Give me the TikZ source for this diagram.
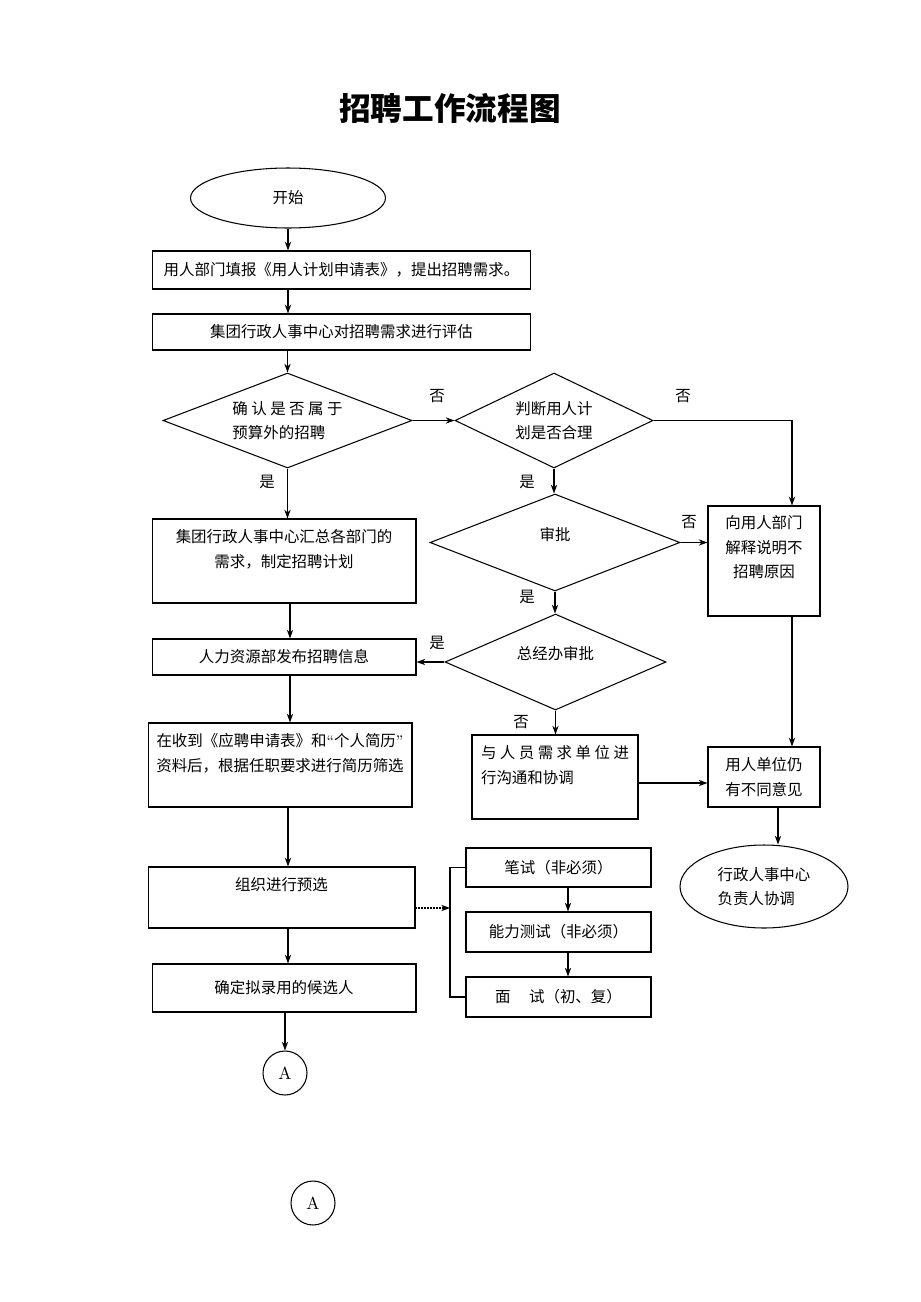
\documentclass[tikz,border=0pt]{standalone}
\usepackage{fontspec}
\newfontfamily\cjk{Noto Sans CJK SC}
\usepackage{tikz}
\usetikzlibrary{positioning,arrows.meta,shapes.geometric}
\newcommand{\txtfont}{\cjk\fontsize{8.8}{13.8}\selectfont}

\begin{document}
\begin{tikzpicture}[
  x=0.02cm, y=-0.02cm,
  box/.style={draw, line width=0.6pt, inner sep=0pt, font=\txtfont, align=center},
  decision/.style={diamond, draw, line width=0.6pt, inner sep=0pt, aspect=2.5, font=\txtfont, align=left},
  oval/.style={ellipse, draw, line width=0.6pt, inner sep=0pt, font=\txtfont},
  toptext/.style={font=\txtfont, align=center, inner sep=0pt},
  lab/.style={font=\txtfont},
  arr/.style={-{Stealth[length=5pt,width=3.6pt]}, line width=0.7pt}
]
  \useasboundingbox (0,0) rectangle (920,1302);

  % Title
  \node[font=\cjk\bfseries\fontsize{18}{22}\selectfont] (title) at (450,108) {招聘工作流程图};

  % Main column
  \node[oval, minimum width=3.9cm, minimum height=1.2cm] (start) at (288,198) {开始};
  \node[box, minimum width=7.58cm, minimum height=0.76cm] (b1) at (341.5,270)
    {用人部门填报《用人计划申请表》，提出招聘需求。};
  \node[box, minimum width=7.58cm, minimum height=0.72cm] (b2) at (341.5,332)
    {集团行政人事中心对招聘需求进行评估};

  \node[decision, minimum width=4.98cm, minimum height=1.9cm] (d1) at (287.5,420.5)
    {确 认 是 否 属 于\\预算外的招聘};

  \node[box, minimum width=5.28cm, minimum height=1.68cm] (b3) at (284,561) {};
  \node[toptext, below=0.22cm of b3.north] (b3t)
    {集团行政人事中心汇总各部门的\\需求，制定招聘计划};

  \node[box, minimum width=5.28cm, minimum height=0.72cm] (b4) at (284,657) {人力资源部发布招聘信息};

  \node[box, minimum width=5.28cm, minimum height=1.68cm] (b5) at (280,765) {};
  \node[toptext, below=0.22cm of b5.north] (b5t)
    {在收到《应聘申请表》和{\rmfamily“}个人简历{\rmfamily”}\\资料后，根据任职要求进行简历筛选};

  \node[box, minimum width=5.34cm, minimum height=1.22cm] (b7) at (281.5,897.5) {};
  \node[toptext, below=0.22cm of b7.north] (b7t) {组织进行预选};

  \node[box, minimum width=5.28cm, minimum height=0.96cm] (b11) at (284,988) {确定拟录用的候选人};

  \node[circle, draw, line width=0.6pt, minimum size=0.88cm, inner sep=0pt] (ca) at (285,1073) {A};
  \node[circle, draw, line width=0.6pt, minimum size=0.88cm, inner sep=0pt] (cb) at (313,1203) {A};

  % Approval column
  \node[decision, minimum width=3.96cm, minimum height=1.9cm] (d2) at (554,420.5)
    {判断用人计\\划是否合理};
  \node[decision, minimum width=5cm, minimum height=1.94cm] (d3) at (555,542.5) {};
  \node[lab] (d3t) at ([yshift=0.16cm]d3.center) {审批};
  \node[decision, minimum width=4.42cm, minimum height=1.92cm] (d4) at (555.5,662) {};
  \node[lab] (d4t) at ([yshift=0.16cm]d4.center) {总经办审批};

  \node[box, minimum width=3.32cm, minimum height=1.68cm] (b6) at (555,777) {};
  \node[toptext, align=left, below=0.22cm of b6.north] (b6t)
    {与 人 员 需 求 单 位 进\\行沟通和协调};

  % Right column
  \node[box, minimum width=2.24cm, minimum height=2.2cm] (r1) at (764,561) {};
  \node[toptext, below=0.2cm of r1.north] (r1t) {向用人部门\\解释说明不\\招聘原因};
  \node[box, minimum width=2.24cm, minimum height=1.2cm] (r2) at (764,777) {用人单位仍\\有不同意见};
  \node[oval, minimum width=3.36cm, minimum height=1.66cm, align=left] (e2) at (764,886.5)
    {行政人事中心\\负责人协调};

  % Tests
  \node[box, minimum width=3.7cm, minimum height=0.78cm] (b8) at (558.5,867.5) {笔试（非必须）};
  \node[box, minimum width=3.7cm, minimum height=0.8cm] (b9) at (558.5,932) {能力测试（非必须）};
  \node[box, minimum width=3.7cm, minimum height=0.8cm] (b10) at (558.5,997) {面\hspace{1.2em}试（初、复）};
  \coordinate (brk) at (450,908);

  % Connectors
  \draw[arr] (start.south) -- (start.south |- b1.north);
  \draw[arr] (b1.south -| start.south) -- (start.south |- b2.north);
  \draw[arr] (b2.south -| d1.north) -- (d1.north);
  \draw[arr] (d1.east) -- (d2.west);
  \draw[arr] (d2.east) -| ([xshift=0.56cm]r1.north);
  \draw[arr] (d1.south) -- (d1.south |- b3.north);
  \draw[arr] (d2.south) -- (d2.south |- d3.north);
  \draw[arr] (d3.east) -- (d3.east -| r1.west);
  \draw[arr] (d3.south) -- (d3.south |- d4.north);
  \draw[arr] (d4.west) -- (d4.west -| b4.east);
  \draw[arr] ([xshift=0.12cm]b3.south) -- ([xshift=0.12cm]b4.north);
  \draw[arr] ([xshift=0.12cm]b4.south) -- ([xshift=0.12cm]b4.south |- b5.north);
  \draw[arr] (d4.south) -- (d4.south |- b6.north);
  \draw[arr] ([yshift=-0.12cm]b6.east) -- ([yshift=-0.12cm]b6.east -| r2.west);
  \draw[arr] ([xshift=0.56cm]r1.south) -- ([xshift=0.56cm]r2.north);
  \draw[arr] ([xshift=0.28cm]r2.south) -- ([xshift=0.28cm]e2.north);
  \draw[arr] ([xshift=0.16cm]b5.south) -- ([xshift=0.16cm]b5.south |- b7.north);
  \draw[arr, densely dotted] ([yshift=-0.21cm]b7.east) -- ([yshift=-0.21cm]b7.east -| brk);
  \draw[line width=0.6pt] (b8.west) -| (brk) |- (b10.west);
  \draw[arr] ([xshift=0.19cm]b8.south) -- ([xshift=0.19cm]b9.north);
  \draw[arr] ([xshift=0.19cm]b9.south) -- ([xshift=0.19cm]b10.north);
  \draw[arr] ([xshift=0.13cm]b7.south) -- ([xshift=0.13cm]b7.south |- b11.north);
  \draw[arr] (b11.south -| ca.north) -- (ca.north);

  % Yes / no labels
  \node[lab] (no1) at (437,396) {否};
  \node[lab] (no2) at (683,396) {否};
  \node[lab] (yes1) at (267,482) {是};
  \node[lab] (yes2) at (527,482) {是};
  \node[lab] (no3) at (689,522) {否};
  \node[lab] (yes3) at (527,597) {是};
  \node[lab] (yes4) at (437,643) {是};
  \node[lab] (no4) at (521,722) {否};
\end{tikzpicture}
\end{document}
